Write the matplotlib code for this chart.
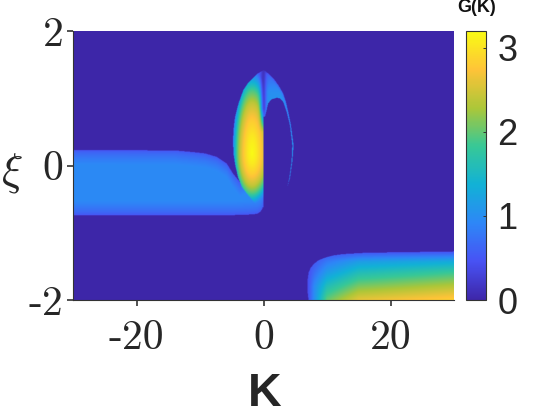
import numpy as np
import matplotlib
matplotlib.use("Agg")
import matplotlib.pyplot as plt
from matplotlib.colors import LinearSegmentedColormap

plt.rcParams["mathtext.fontset"] = "cm"
plt.rcParams["axes.formatter.use_mathtext"] = True

# --- values ---
x_ticks = [-20, 0, 20]
y_ticks = [-2, 0, 2]
x_tick_labels = ["-20", "0", "20"]
y_tick_labels = ["-2", "0", "2"]
cbar_ticks = [0, 1, 2, 3]
vmax = 3.2

# left band: edges against K
band_K = [-30, -14, -11.1, -9.2, -7.4, -5.8, -4.8, -3.7, -2.65, -1, 0]
band_top = [0.23, 0.225, 0.2, 0.18, 0.13, 0.03, -0.12, -0.25, -0.2, -0.1, -0.1]
bandb_K = [-30, -5, -2, -1, -0.5, -0.2, 0]
band_bottom = [-0.74, -0.74, -0.73, -0.72, -0.69, -0.65, -0.55]
band_level = 0.95

# central lobe: outline against xi
lobe_xi = [-0.62, -0.58, -0.5, -0.42, -0.32, -0.18, -0.02, 0.15, 0.33, 0.52, 0.72, 0.92, 1.12, 1.22, 1.3, 1.37, 1.42]
lobe_left = [-0.6, -1.2, -1.9, -2.6, -3.4, -4.0, -4.4, -4.7, -4.8, -4.75, -4.5, -3.95, -3.2, -2.5, -1.7, -0.9, 0.0]
right_xi = [-0.32, -0.19, 0.06, 0.3, 0.6, 0.8, 0.95, 1.07, 1.2, 1.3, 1.37, 1.42]
right_outer = [3.75, 4.17, 4.55, 4.75, 4.33, 3.9, 3.54, 3.12, 2.33, 1.55, 0.76, 0.1]
gap_xi = [-0.32, -0.19, 0.06, 0.3, 0.6, 0.8, 0.95, 1.0, 1.01]
gap_right = [3.75, 4.07, 4.43, 4.55, 4.17, 3.65, 3.1, 2.6, 2.08]
gapl_xi = [0.73, 0.93, 0.985, 1.01]
gap_left = [0.24, 0.76, 1.27, 2.08]
lobe_peak = (-1.8, 0.18)
lobe_r = [0, 0.2, 0.4, 0.6, 0.75, 0.9, 1.0, 1.5]
lobe_G = [3.2, 3.05, 2.8, 2.4, 1.9, 1.1, 0.55, 0.55]
crescent_xi = [-0.32, 0.0, 0.5, 0.8, 1.1, 1.42]
crescent_G = [1.1, 1.4, 1.25, 1.1, 1.0, 0.55]

# lower right block
block_K = [7, 8, 10, 15, 30]
block_xi = [-2.0, -1.8, -1.6, -1.43, -1.29]
block_G = [[0.4, 1.0, 2.0, 2.6, 2.85],
           [0.4, 0.95, 1.6, 2.1, 2.35],
           [0.4, 0.7, 1.15, 1.6, 1.85],
           [0.4, 0.5, 0.8, 1.15, 1.3],
           [0.4, 0.4, 0.4, 0.45, 0.5]]
blk_edge_xi = [-2.0, -1.85, -1.7, -1.6, -1.53, -1.47, -1.41, -1.37, -1.34, -1.32, -1.3, -1.28]
blk_edge_K = [7.1, 6.9, 6.95, 7.1, 7.4, 7.9, 8.7, 9.8, 11, 12.5, 16, 30]

parula_colors = [(0.2422, 0.1504, 0.6603), (0.2810, 0.3228, 0.9579), (0.1786, 0.5289, 0.9682),
                 (0.0689, 0.6948, 0.8394), (0.2161, 0.7843, 0.5923), (0.6720, 0.7793, 0.2227),
                 (0.9970, 0.7659, 0.2199), (0.9769, 0.9839, 0.0805)]

parula = LinearSegmentedColormap.from_list("parula", parula_colors, N=256)

K = np.linspace(-30, 30, 762)
xi = np.linspace(-2, 2, 540)
KK, XX = np.meshgrid(K, xi)
Z = np.zeros_like(KK)

# band
top = np.interp(K, band_K, band_top)[None, :]
bot = np.interp(K, bandb_K, band_bottom)[None, :]
inside = (XX <= top) & (XX >= bot) & (KK <= 0)
edge_dist = np.minimum(top - XX, XX - bot)
band = 0.45 + (band_level - 0.45) * np.clip(edge_dist / 0.22, 0, 1) ** 0.6
Z[inside] = band[inside]

# dark stripe along K = 0 in the upper part of the lobe
stripe_on = np.clip((XX - 0.5) / 0.35, 0, 1)
stripe = 1 - 0.75 * stripe_on * np.exp(-((KK - 0.0) / 0.45) ** 2)

# lobe
oL = np.interp(XX, lobe_xi, lobe_left, left=np.inf, right=np.inf)
oR = np.interp(XX, right_xi, right_outer, left=-np.inf, right=-np.inf)
left_mask = (KK <= 0) & (KK >= oL)
dx = KK - lobe_peak[0]
dy = XX - lobe_peak[1]
ax_ = np.where(dx < 0, 3.2, 3.5)
by = np.where(dy > 0, 1.25, 0.8)
r = np.sqrt((dx / ax_) ** 2 + (dy / by) ** 2)
lobe_val = np.interp(r, lobe_r, lobe_G) * stripe
Z[left_mask] = np.maximum(Z, lobe_val)[left_mask]

gR = np.interp(XX, gap_xi, gap_right)
gL = np.where(XX < 0.73, 0.0, np.interp(XX, gapl_xi, gap_left))
in_gap = (KK >= gL) & (KK <= gR) & (XX <= 1.01)
right_mask = (KK > 0) & (KK <= oR) & ~in_gap
rim = 0.7 + 0.3 * np.clip((oR - KK) / 0.4, 0, 1)
cres = np.interp(XX, crescent_xi, crescent_G) * rim * stripe
Z[right_mask] = cres[right_mask]

# block
block_G = np.array(block_G)
cols = np.array([np.interp(xi, block_xi, c) for c in block_G.T])
tab = np.array([np.interp(K, block_K, cols[:, j]) for j in range(len(xi))])
edge = np.interp(XX, blk_edge_xi, blk_edge_K, right=np.inf)
bmask = KK >= edge
Z[bmask] = tab[bmask]

fig = plt.figure(figsize=(5.6, 4.2), dpi=100)
W, H = 560, 420
ax = fig.add_axes([73 / W, 1 - 300 / H, 381 / W, 269 / H])
im = ax.imshow(Z, origin="lower", extent=[-30, 30, -2, 2], aspect="auto",
               cmap=parula, vmin=0, vmax=vmax, interpolation="bilinear")
ax.set_xticks(x_ticks)
ax.set_yticks(y_ticks)
ax.set_xticklabels(x_tick_labels, fontsize=30, family="cmr10", color="#262626")
ax.set_yticklabels(y_tick_labels, fontsize=30, family="cmr10", color="#262626")
ax.tick_params(axis="x", length=4, width=1.2, color="#333333", pad=10)
ax.tick_params(axis="y", length=4, width=1.2, color="#333333", pad=3)
for s in ["top", "right"]:
    ax.spines[s].set_visible(False)
for s in ["left", "bottom"]:
    ax.spines[s].set_color("#333333")
fig.text(265 / W, 1 - 394 / H, "K", fontsize=33.5, fontweight="bold", family="Liberation Sans",
         ha="center", va="center", color="#262626")
fig.text(12 / W, 1 - 173 / H, r"$\xi$", fontsize=32,
         ha="center", va="center", color="#262626")

cax = fig.add_axes([465.5 / W, 1 - 300 / H, 20 / W, 269 / H])
cb = fig.colorbar(im, cax=cax, ticks=cbar_ticks)
cb.ax.tick_params(length=2, width=0.7, direction="in", labelsize=26, color="#333333",
                  labelcolor="#262626", pad=8)
for t in cb.ax.get_yticklabels():
    t.set_family("Liberation Sans")
cb.outline.set_edgecolor("#333333")
fig.text(457 / W, 1 - 7 / H, "G(K)", fontsize=13, fontweight="bold", family="Liberation Sans",
         ha="left", va="center", color="#111111")
fig.savefig("out.png", dpi=100)
